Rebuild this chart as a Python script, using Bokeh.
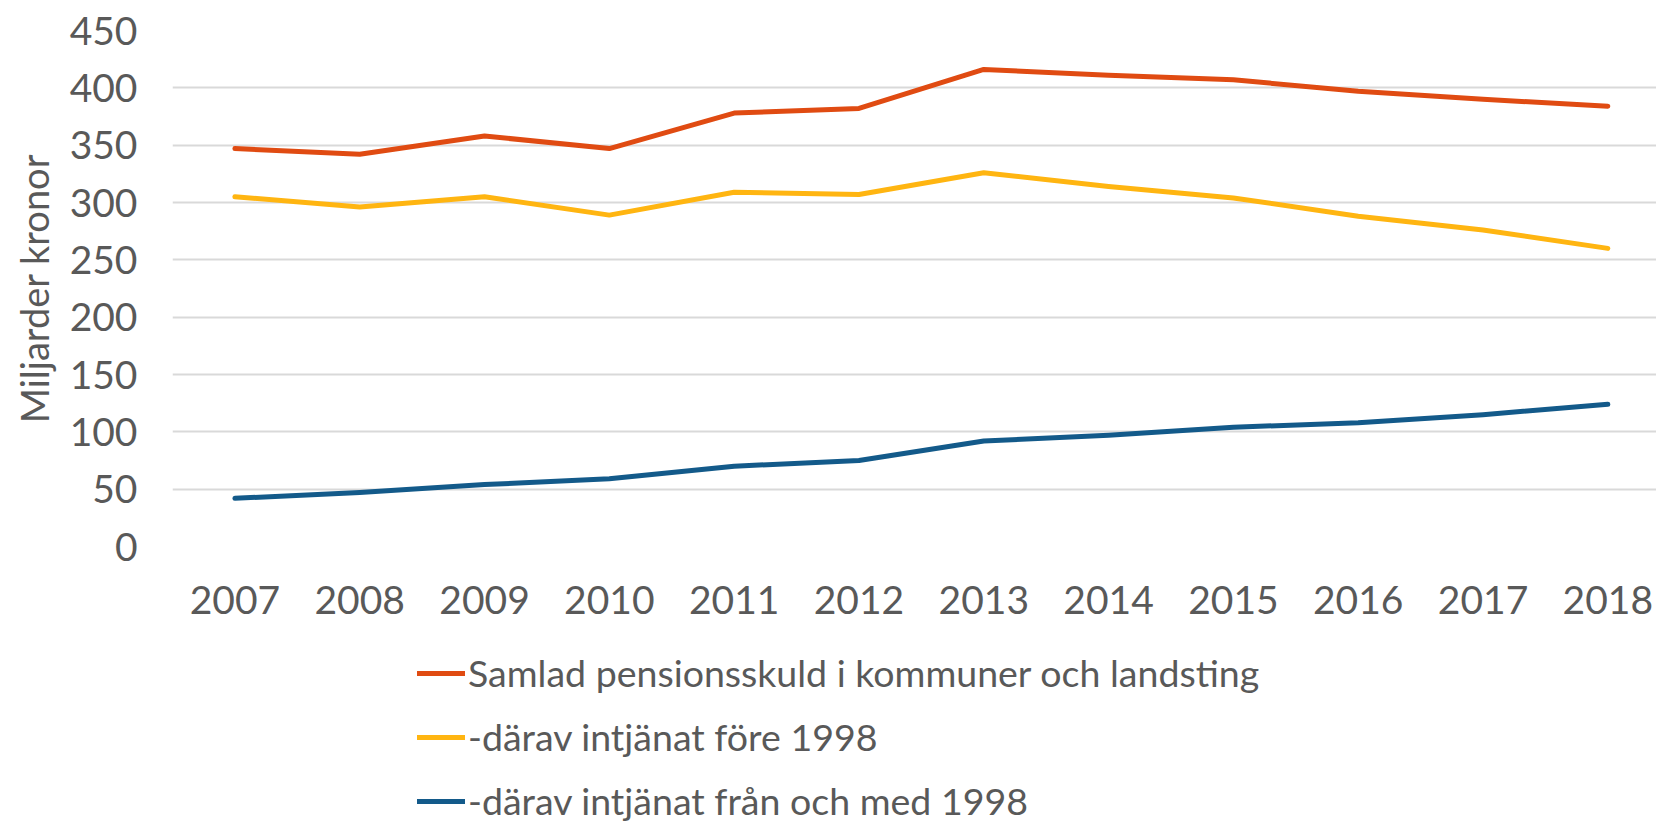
from bokeh.plotting import figure
from bokeh.models import Legend, LegendItem, FixedTicker, Range1d
from bokeh.layouts import column
from bokeh.embed import file_html
from bokeh.resources import INLINE

years = [2007, 2008, 2009, 2010, 2011, 2012, 2013, 2014, 2015, 2016, 2017, 2018]
total = [347, 342, 358, 347, 378, 382, 416, 411, 407, 397, 390, 384]
fore_1998 = [305, 296, 305, 289, 309, 307, 326, 314, 304, 288, 276, 260]
fran_1998 = [42, 47, 54, 59, 70, 75, 92, 97, 104, 108, 115, 124]
y_ticks = [0, 50, 100, 150, 200, 250, 300, 350, 400, 450]

series_names = [
    "Samlad pensionsskuld i kommuner och landsting",
    "-därav intjänat före 1998",
    "-därav intjänat från och med 1998",
]
colors = ["#E04B12", "#FFB511", "#135A8A"]
series = [total, fore_1998, fran_1998]

FONT = "Lato"
GREY = "#595959"
W = 1656

p = figure(width=W, height=638, output_backend="svg", toolbar_location=None,
           x_range=Range1d(2006.5, 2018.39), y_range=Range1d(0, 450),
           min_border_left=172, min_border_right=0, min_border_top=30,
           min_border_bottom=92)
p.outline_line_color = None

for vals, c in zip(series, colors):
    p.line(years, vals, line_color=c, line_width=5, line_cap="round", line_join="round")

p.xaxis.ticker = FixedTicker(ticks=years)
p.yaxis.ticker = FixedTicker(ticks=y_ticks)
for ax in [p.xaxis, p.yaxis]:
    ax.axis_line_color = None
    ax.major_tick_line_color = None
    ax.minor_tick_line_color = None
    ax.major_label_text_font = FONT
    ax.major_label_text_font_size = "39px"
    ax.major_label_text_color = GREY
p.xaxis.major_label_standoff = 33
p.yaxis.major_label_standoff = 29
p.yaxis.axis_label = "Miljarder kronor"
p.yaxis.axis_label_text_font = FONT
p.yaxis.axis_label_text_font_size = "38px"
p.yaxis.axis_label_text_font_style = "normal"
p.yaxis.axis_label_text_color = GREY
p.yaxis.axis_label_standoff = 10

p.xgrid.grid_line_color = None
p.ygrid.grid_line_color = "#D9D9D9"
p.ygrid.grid_line_width = 2

# legend panel: proxy lines kept outside the visible y range
p2 = figure(width=W, height=186, output_backend="svg", toolbar_location=None,
            x_range=Range1d(2006.5, 2018.39), y_range=Range1d(10000, 10001),
            x_axis_type=None, y_axis_type=None, min_border=0)
p2.outline_line_color = None
p2.xgrid.visible = False
p2.ygrid.visible = False
proxies = [p2.line(years, vals, line_color=c, line_width=5, line_cap="round")
           for vals, c in zip(series, colors)]

legend = Legend(items=[LegendItem(label=n, renderers=[r]) for n, r in zip(series_names, proxies)],
                location=(245, 1), orientation="vertical",
                label_text_font=FONT, label_text_font_size="37.5px", label_text_color=GREY,
                glyph_width=48, glyph_height=34, label_height=34, label_standoff=3,
                spacing=19, padding=0, margin=0, border_line_color=None,
                background_fill_alpha=0)
p2.add_layout(legend, "center")

layout = column(p, p2, spacing=0)
open("out.html", "w").write(file_html(layout, INLINE))
